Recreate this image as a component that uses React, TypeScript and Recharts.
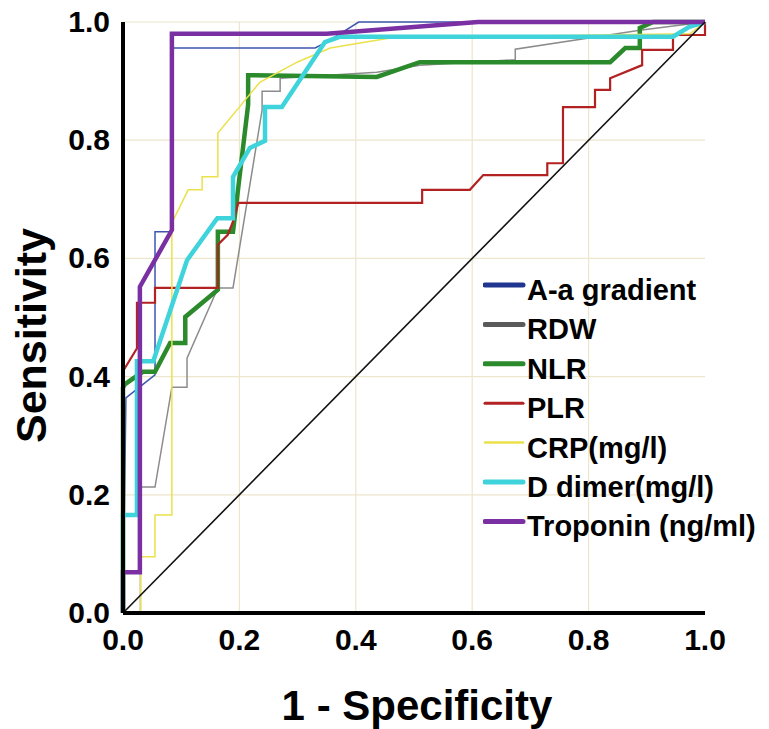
import React from 'react';
import { LineChart, Line, XAxis, YAxis, CartesianGrid } from 'recharts';

const FONT = "'Liberation Sans', Arial, Helvetica, sans-serif";

const seriesNames = ['A-a gradient', 'RDW', 'NLR', 'PLR', 'CRP(mg/l)', 'D dimer(mg/l)', 'Troponin (ng/ml)'];
const axisTicks = [0, 0.2, 0.4, 0.6, 0.8, 1.0];
const gridX = [0.2, 0.4, 0.6, 0.8];
const gridY = [0.2, 0.4, 0.6, 0.8, 1.0];

const aaFpr = [0, 0.005, 0.055, 0.055, 0.084, 0.084, 0.33, 0.35, 0.405, 1];
const aaTpr = [0, 0.364, 0.403, 0.645, 0.645, 0.956, 0.956, 0.966, 1, 1];

const rdwFpr = [0, 0.03, 0.03, 0.055, 0.084, 0.11, 0.11, 0.163, 0.189, 0.239, 0.239, 0.27, 0.27, 0.436, 0.51, 0.674, 0.674, 0.888, 1];
const rdwTpr = [0, 0, 0.213, 0.213, 0.382, 0.382, 0.431, 0.55, 0.55, 0.851, 0.883, 0.883, 0.905, 0.915, 0.927, 0.936, 0.954, 0.986, 1];

const nlrFpr = [0, 0, 0.003, 0.034, 0.055, 0.081, 0.107, 0.107, 0.163, 0.163, 0.189, 0.215, 0.215, 0.436, 0.51, 0.837, 0.863, 0.888, 0.888, 0.911, 1];
const nlrTpr = [0, 0.381, 0.387, 0.408, 0.408, 0.457, 0.457, 0.501, 0.547, 0.645, 0.645, 0.86, 0.91, 0.907, 0.932, 0.932, 0.956, 0.956, 0.99, 1, 1];

const plrFpr = [0, 0, 0.024, 0.024, 0.055, 0.055, 0.163, 0.163, 0.18, 0.189, 0.198, 0.514, 0.514, 0.596, 0.619, 0.729, 0.729, 0.756, 0.756, 0.811, 0.811, 0.837, 0.837, 0.892, 0.892, 0.945, 0.945, 1, 1];
const plrTpr = [0, 0.409, 0.448, 0.525, 0.525, 0.55, 0.55, 0.623, 0.64, 0.662, 0.694, 0.694, 0.716, 0.716, 0.741, 0.741, 0.761, 0.761, 0.856, 0.856, 0.885, 0.885, 0.905, 0.927, 0.953, 0.953, 0.978, 0.978, 1];

const crpFpr = [0, 0.03, 0.03, 0.055, 0.055, 0.084, 0.084, 0.112, 0.136, 0.136, 0.163, 0.163, 0.235, 0.299, 0.356, 0.459, 0.974, 1];
const crpTpr = [0, 0, 0.095, 0.095, 0.166, 0.166, 0.66, 0.716, 0.716, 0.738, 0.738, 0.812, 0.898, 0.932, 0.956, 0.973, 0.98, 1];

const dimFpr = [0, 0, 0.024, 0.024, 0.052, 0.11, 0.162, 0.189, 0.189, 0.218, 0.244, 0.244, 0.273, 0.347, 0.372, 0.945, 0.973, 1];
const dimTpr = [0, 0.166, 0.166, 0.426, 0.426, 0.597, 0.668, 0.668, 0.738, 0.787, 0.799, 0.856, 0.856, 0.966, 0.975, 0.975, 0.992, 1];

const tropFpr = [0, 0, 0.029, 0.029, 0.084, 0.084, 0.35, 0.61, 1];
const tropTpr = [0, 0.069, 0.069, 0.552, 0.648, 0.98, 0.98, 1, 1];

const refFpr = [0, 1];
const refTpr = [0, 1];

const toPoints = (xs: number[], ys: number[]) => xs.map((x, i) => ({ x, y: ys[i] }));

const series = [
  { name: seriesNames[0], data: toPoints(aaFpr, aaTpr), color: '#3d56b0', width: 1.5, legendColor: '#1f3590', legendWidth: 5 },
  { name: seriesNames[1], data: toPoints(rdwFpr, rdwTpr), color: '#8c8c8c', width: 1.5, legendColor: '#5a5a5a', legendWidth: 5 },
  { name: seriesNames[2], data: toPoints(nlrFpr, nlrTpr), color: '#2b8a2b', width: 4.5, legendColor: '#2b8a2b', legendWidth: 5 },
  { name: seriesNames[3], data: toPoints(plrFpr, plrTpr), color: '#b32222', width: 2.2, legendColor: '#b32222', legendWidth: 3 },
  { name: seriesNames[4], data: toPoints(crpFpr, crpTpr), color: '#ebe14a', width: 1.5, legendColor: '#ebe14a', legendWidth: 2.5 },
  { name: seriesNames[5], data: toPoints(dimFpr, dimTpr), color: '#3fd3db', width: 4.5, legendColor: '#3fd3db', legendWidth: 5 },
  { name: seriesNames[6], data: toPoints(tropFpr, tropTpr), color: '#7a30a2', width: 4.5, legendColor: '#7a30a2', legendWidth: 5 },
];

const YTick = (props: any) => {
  const { x, y, payload } = props;
  return (
    <text x={x} y={y} dy={10} textAnchor="end" fontFamily={FONT} fontWeight="bold" fontSize={30} fill="#000">
      {Number(payload.value).toFixed(1)}
    </text>
  );
};

const XTick = (props: any) => {
  const { x, y, payload } = props;
  return (
    <text x={x} y={y} dy={29} textAnchor="middle" fontFamily={FONT} fontWeight="bold" fontSize={30} fill="#000">
      {Number(payload.value).toFixed(1)}
    </text>
  );
};

const XLabel = (props: any) => {
  const vb = props.viewBox;
  return (
    <text x={vb.x + vb.width / 2 + 3} y={vb.y + 107} textAnchor="middle" fontFamily={FONT} fontWeight="bold" fontSize={42} fill="#000">
      1 - Specificity
    </text>
  );
};

const YLabel = (props: any) => {
  const vb = props.viewBox;
  const cx = 46;
  const cy = vb.y + vb.height / 2 + 18;
  return (
    <text x={cx} y={cy} transform={`rotate(-90 ${cx} ${cy})`} textAnchor="middle" fontFamily={FONT} fontWeight="bold" fontSize={43} fill="#000">
      Sensitivity
    </text>
  );
};

const LegendBox = () => (
  <div style={{ position: 'absolute', left: 483, top: 270, width: 286, height: 290 }}>
    <svg width={286} height={290}>
      {series.map((s, i) => {
        const ly = 15 + i * 39.4;
        return (
          <g key={s.name}>
            <line x1={2} x2={40} y1={ly} y2={ly} stroke={s.legendColor} strokeWidth={s.legendWidth} strokeLinecap="round" />
            <text x={44} y={ly + 15} fontFamily={FONT} fontWeight="bold" fontSize={29} fill="#000">
              {s.name}
            </text>
          </g>
        );
      })}
    </svg>
  </div>
);

export default function App() {
  return (
    <div style={{ position: 'relative', width: 769, height: 729, margin: '-8px 0 0 -8px' }}>
      <LineChart width={769} height={729} margin={{ top: 22, right: 64, bottom: 0, left: 0 }}>
        <CartesianGrid stroke="#ebe6cc" strokeWidth={1.2} verticalValues={gridX} horizontalValues={gridY} />
        <XAxis
          type="number"
          dataKey="x"
          domain={[0, 1]}
          ticks={axisTicks}
          height={116}
          tickLine={false}
          tickSize={6}
          tickMargin={2}
          axisLine={{ stroke: '#000', strokeWidth: 4 }}
          tick={<XTick />}
          label={<XLabel />}
          allowDuplicatedCategory={false}
        />
        <YAxis
          type="number"
          dataKey="y"
          domain={[0, 1]}
          ticks={axisTicks}
          width={123}
          tickLine={false}
          tickSize={6}
          tickMargin={7}
          axisLine={{ stroke: '#000', strokeWidth: 4 }}
          tick={<YTick />}
          label={<YLabel />}
        />
        {series.map((s) => (
          <Line
            key={s.name}
            data={s.data}
            dataKey="y"
            name={s.name}
            type="linear"
            stroke={s.color}
            strokeWidth={s.width}
            dot={false}
            activeDot={false}
            isAnimationActive={false}
            strokeLinejoin="miter"
          />
        ))}
        <Line
          data={toPoints(refFpr, refTpr)}
          dataKey="y"
          name="reference"
          type="linear"
          stroke="#111"
          strokeWidth={1.6}
          dot={false}
          activeDot={false}
          legendType="none"
          isAnimationActive={false}
        />
      </LineChart>
      <LegendBox />
    </div>
  );
}
